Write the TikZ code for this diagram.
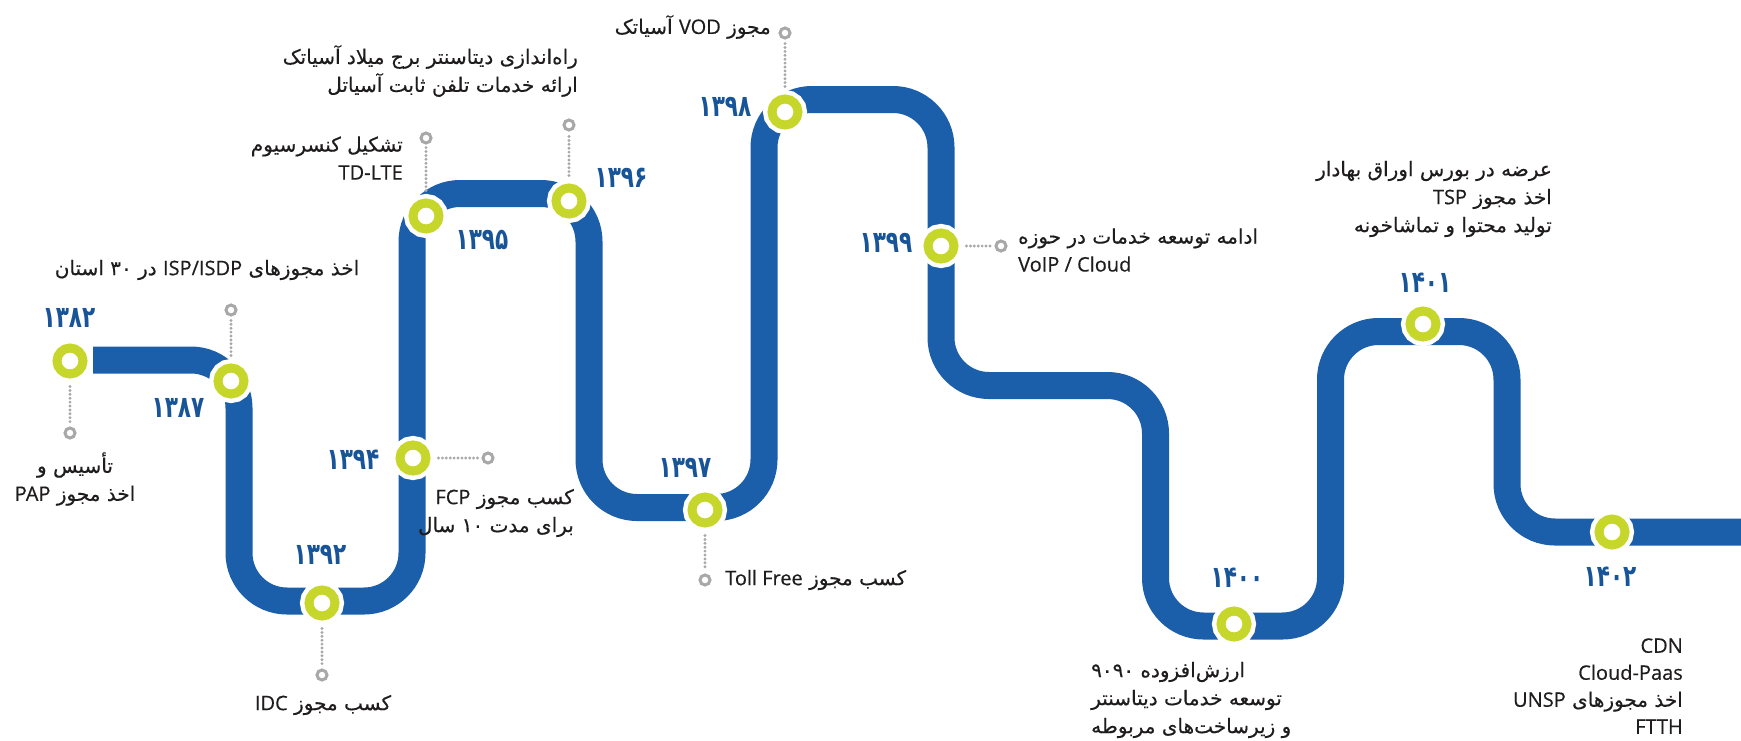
\documentclass[tikz,border=0pt]{standalone}
\usepackage{fontspec}
\TeXXeTstate=1
\setmainfont{DejaVu Sans}
\newfontfamily\fa[Script=Arabic,FakeBold=0.4]{DejaVu Sans}
\newfontfamily\yrfont[Script=Arabic,FakeStretch=0.72]{DejaVu Sans}
\newfontfamily\latf[FakeBold=0.4]{Open Sans}
\newcommand\mylat[1]{\beginL{\latf #1}\endL}
\newcommand\rl[1]{\hbox{\beginR #1\endR}}
\newcommand\lr[1]{\hbox{\latf #1}}
\definecolor{barblue}{RGB}{27,94,170}
\definecolor{ringgreen}{RGB}{198,214,42}
\definecolor{dotgray}{RGB}{168,168,168}
\definecolor{txt}{RGB}{30,28,28}
\definecolor{yrblue}{RGB}{24,84,152}
\tikzset{
  yr/.style={circle, inner sep=0pt, minimum size=26pt, draw=ringgreen, line width=9pt, fill=white, preaction={draw=white, line width=18pt}},
  pinmark/.style={circle, inner sep=0pt, minimum size=10pt, draw=dotgray, line width=3pt, fill=white},
  dots/.style={draw=dotgray, line width=3.2pt, line cap=round, dash pattern=on 0pt off 3.9pt, shorten <=8pt, shorten >=3pt},
  year/.style={text=yrblue, font=\yrfont\bfseries\fontsize{30}{30}\selectfont, inner sep=0pt},
  lbl/.style={text=txt, font=\fa\fontsize{20}{28}\selectfont, inner sep=0pt},
  bar/.style={draw=barblue, line width=27pt, rounded corners=48pt}
}
\begin{document}
\begin{tikzpicture}[x=1pt,y=-1pt]
\useasboundingbox (0,0) rectangle (1741,740);
% main track
\draw[bar] (93,360) -- (239,360) -- (239,601) -- (412,601) -- (412,193.5) -- (589,193.5) -- (589,507.5) -- (764,507.5) -- (764,99.5) -- (941,99.5) -- (941,385.5) -- (1155.5,385.5) -- (1155.5,626) -- (1330.5,626) -- (1330.5,331.5) -- (1507,331.5) -- (1507,532) -- (1745,532);
% milestone rings
\node[yr] (c1382) at (70,361) {};
\node[yr] (c1387) at (231,381) {};
\node[yr] (c1392) at (322,603) {};
\node[yr] (c1394) at (413,458) {};
\node[yr] (c1395) at (426,216) {};
\node[yr] (c1396) at (569,201) {};
\node[yr] (c1397) at (705,510) {};
\node[yr] (c1398) at (785,112) {};
\node[yr] (c1399) at (941,246) {};
\node[yr] (c1400) at (1234,624) {};
\node[yr] (c1401) at (1423,324) {};
\node[yr] (c1402) at (1612,532) {};
% years
\node[year] (y1382) at (69,318) {۱۳۸۲};
\node[year] (y1387) at (178,408) {۱۳۸۷};
\node[year] (y1392) at (320,555) {۱۳۹۲};
\node[year] (y1394) at (353,460) {۱۳۹۴};
\node[year] (y1395) at (482,240) {۱۳۹۵};
\node[year] (y1396) at (621,178) {۱۳۹۶};
\node[year] (y1397) at (685,468) {۱۳۹۷};
\node[year] (y1398) at (725,107) {۱۳۹۸};
\node[year] (y1399) at (886,243) {۱۳۹۹};
\node[year] (y1400) at (1237,578) {۱۴۰۰};
\node[year] (y1401) at (1425,283) {۱۴۰۱};
\node[year] (y1402) at (1610,577) {۱۴۰۲};
% pins and dotted leaders
\node[pinmark] (m1382) at (70,433) {};
\node[pinmark] (m1387) at (231,310) {};
\node[pinmark] (m1392) at (322,675) {};
\node[pinmark] (m1394) at (488,458) {};
\node[pinmark] (m1395) at (426,138) {};
\node[pinmark] (m1396) at (569,125) {};
\node[pinmark] (m1397) at (705,580) {};
\node[pinmark] (m1398) at (785,33) {};
\node[pinmark] (m1399) at (1001,246) {};
\draw[dots] (c1382) -- (m1382);
\draw[dots] (c1387) -- (m1387);
\draw[dots] (c1392) -- (m1392);
\draw[dots] (c1394) -- (m1394);
\draw[dots] (c1395) -- (m1395);
\draw[dots] (c1396) -- (m1396);
\draw[dots] (c1397) -- (m1397);
\draw[dots] (c1398) -- (m1398);
\draw[dots] (c1399) -- (m1399);
% labels
\node[lbl, align=center] (t1382) at (75,479) {\rl{تأسیس و}\\\rl{اخذ مجوز \mylat{PAP}}};
\node[lbl] (t1387) at (207,270) {\rl{اخذ مجوزهای \mylat{ISP/ISDP} در \beginL ۳۰\endL{} استان}};
\node[lbl] (t1392) at (323,705) {\rl{کسب مجوز \mylat{IDC}}};
\node[lbl, anchor=east, align=right] (t1394) at (574,513) {\rl{کسب مجوز \mylat{FCP}}\\\rl{برای مدت \beginL ۱۰\endL{} سال}};
\node[lbl, anchor=east, align=right] (t1395) at (403,158) {\rl{تشکیل کنسرسیوم}\\\lr{TD-LTE}};
\node[lbl, anchor=east, align=right] (t1396) at (578,71) {\rl{راه‌اندازی دیتاسنتر برج میلاد آسیاتک}\\\rl{ارائه خدمات تلفن ثابت آسیاتل}};
\node[lbl, anchor=west] (t1397) at (725,580) {\rl{کسب مجوز \mylat{Toll Free}}};
\node[lbl, anchor=east] (t1398) at (771,27) {\rl{مجوز \mylat{VOD} آسیاتک}};
\node[lbl, anchor=west, align=left] (t1399) at (1018,250) {\rl{ادامه توسعه خدمات در حوزه}\\\lr{VoIP / Cloud}};
\node[lbl, anchor=west, align=left] (t1400) at (1091,700) {\rl{ارزش‌افزوده \beginL ۹۰۹۰\endL}\\\rl{توسعه خدمات دیتاسنتر}\\\rl{و زیرساخت‌های مربوطه}};
\node[lbl, anchor=east, align=right] (t1401) at (1552,199) {\rl{عرضه در بورس اوراق بهادار}\\\rl{اخذ مجوز \mylat{TSP}}\\\rl{تولید محتوا و تماشاخونه}};
\node[lbl, anchor=east, align=right, font=\fa\fontsize{20}{27}\selectfont] (t1402) at (1683,686) {\lr{CDN}\\\lr{Cloud-Paas}\\\rl{اخذ مجوزهای \mylat{UNSP}}\\\lr{FTTH}};
\end{tikzpicture}
\end{document}
